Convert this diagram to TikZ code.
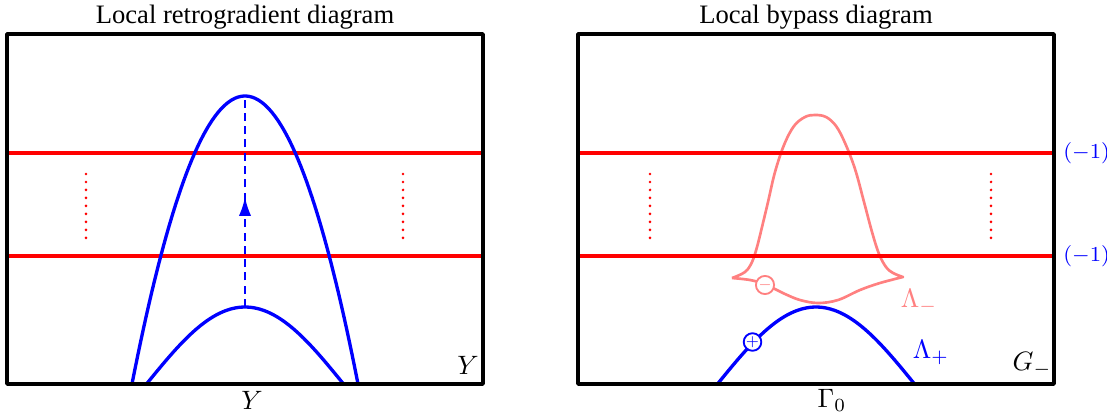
\documentclass[tikz,border=0pt]{standalone}
\usepackage{fontspec}
\setmainfont{Liberation Serif}
\definecolor{lampink}{RGB}{255,128,128}
\usetikzlibrary{arrows.meta, decorations.markings}

\begin{document}
\begin{tikzpicture}[x=0.376pt, y=0.376pt, line join=round,
    frame/.style={line width=1.3pt},
    level/.style={red, line width=1.2pt},
    dots/.style={red, line width=1.1pt, line cap=round, dash pattern=on 0pt off 3pt},
    curve/.style={blue, line width=1.25pt},
    flow/.style={blue, line width=0.6pt, dash pattern=on 3pt off 2pt, postaction={decorate},
      decoration={markings, mark=at position 0.52 with {\arrow{Latex[length=7pt,width=4.6pt]}}}},
    sign/.style={circle, fill=white, line width=0.7pt, inner sep=0pt, minimum size=6.2pt, font=\tiny}]
  \useasboundingbox (0,0) rectangle (1107,417);
  % left: retrogradient
  \node (titleL) at (245,400) {Local retrogradient diagram};
  \draw[level] (7,264) -- (483,264);
  \draw[level] (7,161) -- (483,161);
  \foreach \x in {86,403} { \draw[dots] (\x,243) -- (\x,177); }
  \draw[curve] plot[domain=132:358, samples=80] (\x, {321-0.02255*(\x-245)^2});
  \draw[curve] plot[domain=-98.5:98.5, samples=60] ({245+\x}, {33+77*cos(\x*90/98.5)});
  \coordinate (innertop) at (245,110); \coordinate (outertop) at (245,321);
  \draw[flow] (innertop) -- (outertop);
  \draw[frame] (7,33) rectangle (483,383);
  \node (YL) at (468,52) {$Y$};
  \node (Ybot) at (252,17) {$Y$};
  % right: bypass
  \node (titleR) at (816,400) {Local bypass diagram};
  \draw[lampink, line width=1pt] plot[smooth, tension=0.6] coordinates {(732,139) (745,145) (752,155) (757,170) (762,190) (768,215) (775,245) (784,272) (794,291) (805,300) (815,302) (826,300) (836,291) (845,274) (855,248) (864,215) (872,185) (879,163) (886,150) (893,144) (903,140)}
    -- plot[smooth, tension=0.6] coordinates {(903,140) (880,134) (860,127) (838,117) (818,114) (800,117) (785,123) (773,129) (765,133) (750,137) (732,139)};
  \draw[level] (578,264) -- (1054,264);
  \draw[level] (578,161) -- (1054,161);
  \foreach \x in {650,991} { \draw[dots] (\x,243) -- (\x,177); }
  \draw[curve] plot[domain=-98.5:98.5, samples=60] ({816+\x}, {33+77*cos(\x*90/98.5)});
  \node[sign, draw=lampink, text=lampink] (minus) at (765,132) {$-$};
  \node[sign, draw=blue, text=blue] (plus) at (752.5,75) {$+$};
  \draw[frame] (578,33) rectangle (1054,383);
  \node[right, blue, font=\footnotesize] (ind1) at (1054,264) {$(-1)$};
  \node[right, blue, font=\footnotesize] (ind2) at (1054,161) {$(-1)$};
  \node[lampink] (lamminus) at (919,115) {$\Lambda_-$};
  \node[blue] (lamplus) at (931,64) {$\Lambda_+$};
  \node (Gminus) at (1032,52) {$G_-$};
  \node (Gamma0) at (832,17) {$\Gamma_0$};
\end{tikzpicture}
\end{document}
